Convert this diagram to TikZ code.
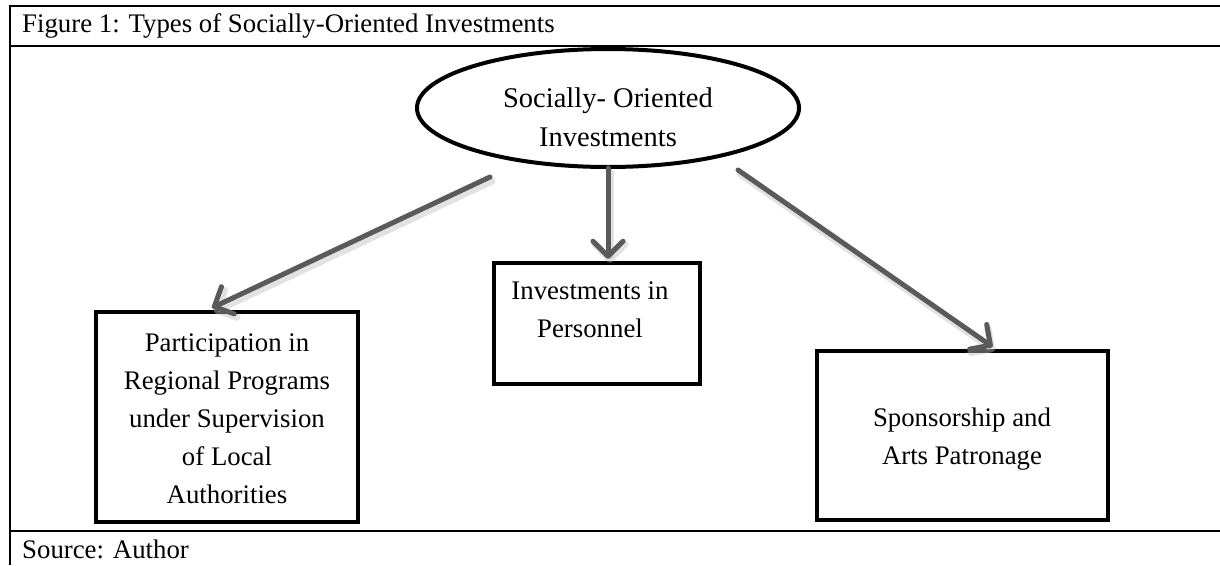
\documentclass[tikz,border=0pt]{standalone}
\usepackage{fontspec}
\setmainfont{Liberation Serif}
\usetikzlibrary{shapes.geometric,arrows.meta,calc}
\definecolor{arrgray}{RGB}{90,90,90}
\tikzset{
  frameline/.style={line width=2pt,black},
  boxnode/.style={draw,line width=4.5pt,align=center,inner sep=0pt},
  txt/.style={align=center,inner sep=0pt,font=\fontsize{26.8}{38}\selectfont},
  bigtxt/.style={align=center,inner sep=0pt,font=\fontsize{28.5}{39}\selectfont},
  arr/.style={draw=arrgray,line width=5pt,line cap=round,
    -{Straight Barb[length=15pt,width=30pt,line width=5pt,round]}},
  arrshadow/.style={draw=black!25,opacity=0.45,line width=7pt,line cap=round,
    -{Straight Barb[length=15pt,width=30pt,line width=7pt,round]}},
}
\begin{document}
\begin{tikzpicture}[x=1pt,y=-1pt]
\useasboundingbox (0,0) rectangle (1220,565);
% frame
\draw[frameline] (10,565) -- (10,6) -- (1220,6);
\draw[frameline] (10,46) -- (1220,46);
\draw[frameline] (10,531) -- (1220,531);
\node[txt,anchor=west] (title) at (22,26) {Figure 1: Types of Socially-Oriented Investments};
\node[txt,anchor=west] (source) at (22,549) {Source: Author};
% ellipse
\node[ellipse,draw,line width=4pt,minimum width=382pt,minimum height=118pt,inner sep=0pt] (soi) at (608,108) {};
\node[bigtxt] (soitext) at (608,117) {Socially- Oriented\\Investments};
% boxes
\node[boxnode,minimum width=262pt,minimum height=210pt] (p) at (227,417) {};
\node[txt] (ptext) at (227,419) {Participation in\\Regional Programs\\under Supervision\\of Local\\Authorities};
\node[boxnode,minimum width=206pt,minimum height=121pt] (mb) at (597,323.5) {};
\node[txt] (mtext) at (590,310) {Investments in\\Personnel};
\node[boxnode,minimum width=291pt,minimum height=169pt] (sb) at (962.5,435.5) {};
\node[txt] (stext) at (962,439) {Sponsorship and\\Arts Patronage};
% arrows
\coordinate (s1) at (490,177);
\coordinate (s2) at (608,168);
\coordinate (s3) at (738,170);
\draw[arrshadow] ($(s1)+(2,4)$) -- ($(p.north)+(-13,2)$);
\draw[arrshadow] ($(s2)+(2,4)$) -- ($(mb.north)+(13,2)$);
\draw[arrshadow] ($(s3)+(2,4)$) -- ($(sb.north)+(32,2)$);
\draw[arr] (s1) -- ($(p.north)+(-15,-2)$);
\draw[arr] (s2) -- ($(mb.north)+(11,-2)$);
\draw[arr] (s3) -- ($(sb.north)+(30,-2)$);
\end{tikzpicture}
\end{document}
